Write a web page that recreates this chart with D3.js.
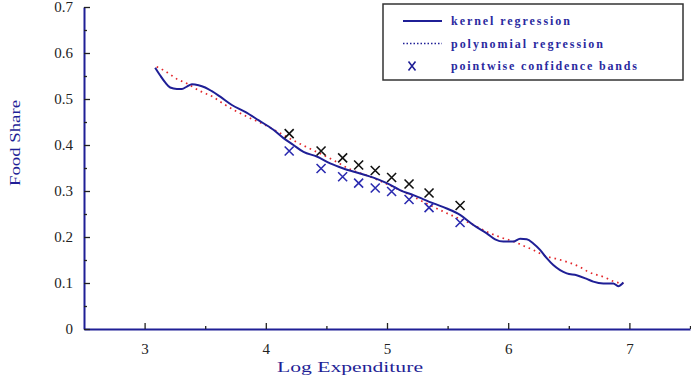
<!DOCTYPE html>
<html><head><meta charset="utf-8">
<script src="https://cdn.jsdelivr.net/npm/d3@7"></script>
<style>body{margin:0;background:#fff}svg{display:block}</style>
</head><body>
<svg id="c" width="691" height="379"></svg>
<script>
const kernelX = [3.087,3.129,3.170,3.211,3.266,3.308,3.349,3.390,3.445,3.500,3.555,3.624,3.720,3.830,3.939,4.063,4.146,4.228,4.311,4.421,4.531,4.640,4.778,4.888,4.998,5.107,5.218,5.383,5.493,5.603,5.713,5.823,5.892,5.960,6.043,6.098,6.153,6.207,6.263,6.318,6.372,6.428,6.483,6.565,6.648,6.702,6.785,6.867,6.908,6.950];
const kernelY = [0.568,0.551,0.536,0.525,0.522,0.522,0.527,0.532,0.530,0.525,0.517,0.505,0.487,0.472,0.454,0.433,0.415,0.400,0.385,0.375,0.360,0.349,0.338,0.329,0.317,0.302,0.291,0.273,0.262,0.248,0.226,0.208,0.195,0.190,0.190,0.196,0.195,0.186,0.172,0.154,0.139,0.128,0.121,0.117,0.109,0.103,0.099,0.099,0.093,0.101];
const polyX = [3.10,3.164,3.271,3.346,3.459,3.568,3.642,3.857,3.967,4.256,4.572,4.682,4.861,4.984,5.534,5.685,5.823,5.941,6.048,6.125,6.197,6.304,6.414,6.607,6.656,6.799,6.875,6.950];
const polyY = [0.570,0.5615,0.543,0.534,0.517,0.504,0.491,0.460,0.447,0.406,0.365,0.349,0.331,0.317,0.247,0.230,0.2115,0.199,0.190,0.181,0.173,0.159,0.1515,0.1326,0.125,0.112,0.103,0.099];
const bandX = [4.193,4.456,4.634,4.766,4.903,5.038,5.182,5.347,5.603];
const bandUpper = [0.4246,0.387,0.372,0.3565,0.3446,0.3293,0.3152,0.2957,0.2685];
const bandLower = [0.387,0.349,0.331,0.317,0.3065,0.299,0.2815,0.264,0.2315];
const xTicks = [3,4,5,6,7];
const xMinor = [3.5,4.5,5.5,6.5,7.5];
const yTicks = [0,0.1,0.2,0.3,0.4,0.5,0.6,0.7];
const yTickLabels = ["0","0.1","0.2","0.3","0.4","0.5","0.6","0.7"];
const yMinor = [0.05,0.15,0.25,0.35,0.45,0.55,0.65];
const legendLabels = ["kernel regression","polynomial regression","pointwise confidence bands"];
const xTitle = "Log Expenditure", yTitle = "Food Share";

const svg = d3.select("#c");
const BLUE = "#1f1f96";
const x = d3.scaleLinear().domain([2.5,7.5]).range([84,690]);
const y = d3.scaleLinear().domain([0,0.7]).range([329,7]);

// axes
const gx = svg.append("g").attr("transform","translate(0,329)")
  .call(d3.axisBottom(x).tickValues(xTicks).tickSize(-6).tickSizeOuter(0).tickPadding(14).tickFormat(d3.format("d")));
const gxm = svg.append("g").attr("transform","translate(0,329)")
  .call(d3.axisBottom(x).tickValues(xMinor).tickSize(-3).tickSizeOuter(0).tickFormat(""));
const gy = svg.append("g").attr("transform","translate(84,0)")
  .call(d3.axisLeft(y).tickValues(yTicks).tickSize(-6).tickSizeOuter(0).tickPadding(11).tickFormat((d,i)=>yTickLabels[i]));
const gym = svg.append("g").attr("transform","translate(84,0)")
  .call(d3.axisLeft(y).tickValues(yMinor).tickSize(-3).tickSizeOuter(0).tickFormat(""));
[gx,gxm,gy,gym].forEach(g=>{
  g.select(".domain").attr("stroke",BLUE).attr("stroke-width",2);
  g.selectAll(".tick line").attr("stroke","#222").attr("stroke-width",1.3);
  g.selectAll(".tick text").attr("fill","#222").attr("font-family","'Liberation Serif',serif").attr("font-size",15);
});
gxm.select(".domain").remove(); gym.select(".domain").remove();

// titles
svg.append("text").attr("x",350).attr("y",372).attr("text-anchor","middle")
  .attr("font-family","'Liberation Serif',serif").attr("font-size",15).attr("fill",BLUE)
  .attr("textLength",146).attr("lengthAdjust","spacingAndGlyphs").text(xTitle);
svg.append("text").attr("transform","translate(20,143) rotate(-90)").attr("text-anchor","middle")
  .attr("font-family","'Liberation Serif',serif").attr("font-size",15).attr("fill",BLUE)
  .attr("textLength",86).attr("lengthAdjust","spacingAndGlyphs").text(yTitle);

// polynomial regression
const polyData = polyX.map((v,i)=>[v,polyY[i]]);
svg.append("path").datum(polyData)
  .attr("d",d3.line().x(d=>x(d[0])).y(d=>y(d[1])).curve(d3.curveMonotoneX))
  .attr("fill","none").attr("stroke","#e3262a").attr("stroke-width",1.7).attr("stroke-dasharray","1.6,4");

// kernel regression
const kData = kernelX.map((v,i)=>[v,kernelY[i]]);
svg.append("path").datum(kData)
  .attr("d",d3.line().x(d=>x(d[0])).y(d=>y(d[1])).curve(d3.curveMonotoneX))
  .attr("fill","none").attr("stroke",BLUE).attr("stroke-width",2);

// confidence band markers
const cross = "M-4.5,-4.5L4.5,4.5M-4.5,4.5L4.5,-4.5";
svg.append("g").selectAll("path").data(bandX.map((v,i)=>[v,bandUpper[i]])).join("path")
  .attr("d",cross).attr("transform",d=>`translate(${x(d[0])},${y(d[1])})`)
  .attr("stroke","#111").attr("stroke-width",1.6).attr("fill","none");
svg.append("g").selectAll("path").data(bandX.map((v,i)=>[v,bandLower[i]])).join("path")
  .attr("d",cross).attr("transform",d=>`translate(${x(d[0])},${y(d[1])})`)
  .attr("stroke","#2b2bb0").attr("stroke-width",1.6).attr("fill","none");

// legend
const lg = svg.append("g");
lg.append("rect").attr("x",383).attr("y",4).attr("width",300).attr("height",76)
  .attr("fill","#fff").attr("stroke","#333").attr("stroke-width",1.5);
const rowY = [21,43.5,66];
const lens = [119,152,186];
lg.append("line").attr("x1",403).attr("x2",442).attr("y1",rowY[0]).attr("y2",rowY[0]).attr("stroke",BLUE).attr("stroke-width",2);
lg.append("line").attr("x1",403).attr("x2",442).attr("y1",rowY[1]).attr("y2",rowY[1]).attr("stroke",BLUE).attr("stroke-width",1.5).attr("stroke-dasharray","1.5,2");
lg.append("path").attr("d","M-3.5,-4.5L3.5,4.5M-3.5,4.5L3.5,-4.5").attr("transform",`translate(412,${rowY[2]})`)
  .attr("stroke",BLUE).attr("stroke-width",1.6).attr("fill","none");
lg.selectAll("text.l").data(legendLabels).join("text").attr("class","l")
  .attr("x",451).attr("y",(d,i)=>rowY[i]+4).attr("font-family","'Liberation Serif',serif")
  .attr("font-size",12).attr("font-weight","bold").attr("fill","#2a2aa0")
  .attr("textLength",(d,i)=>lens[i]).attr("lengthAdjust","spacing").text(d=>d);
</script>
</body></html>
